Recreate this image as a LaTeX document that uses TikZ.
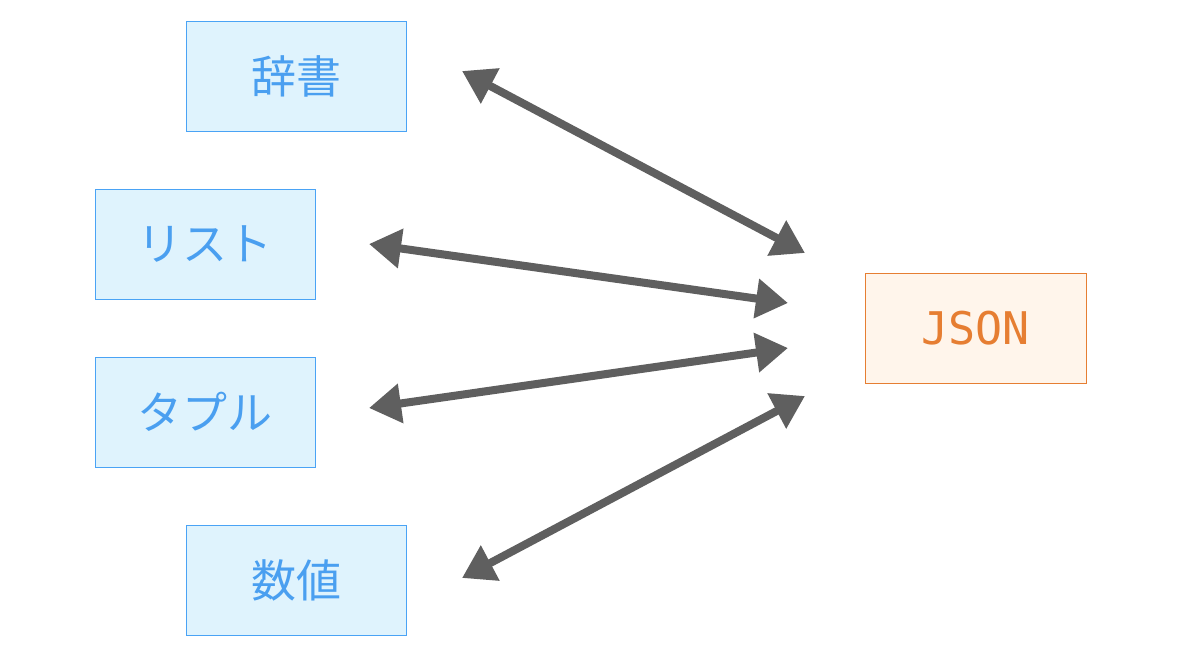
\documentclass[tikz,border=0pt]{standalone}
\usepackage{fontspec}
\newfontfamily\cjkfont{Noto Sans CJK JP}
\newfontfamily\monofont{DejaVu Sans Mono}
\usetikzlibrary{arrows.meta}
\definecolor{boxfill}{HTML}{DFF3FD}
\definecolor{boxline}{HTML}{4AA3F5}
\definecolor{boxtext}{HTML}{4A9FF0}
\definecolor{jsonfill}{HTML}{FFF5EB}
\definecolor{jsonline}{HTML}{E67E32}
\definecolor{arrowcol}{HTML}{5F5F5F}
\tikzset{
  pybox/.style={draw=boxline, fill=boxfill, line width=1pt, minimum width=220pt, minimum height=110pt, inner sep=0pt, text=boxtext, font=\cjkfont\fontsize{45}{50}\selectfont},
  jsonbox/.style={draw=jsonline, fill=jsonfill, line width=1pt, minimum width=221pt, minimum height=110pt, inner sep=0pt, text=jsonline, font=\monofont\fontsize{45}{50}\selectfont},
  link/.style={draw=arrowcol, line width=8pt, {Triangle[length=32pt,width=38pt]}-{Triangle[length=32pt,width=38pt]}}
}
\begin{document}
\begin{tikzpicture}[x=1pt,y=-1pt]
\useasboundingbox (0,0) rectangle (1178,664);
\node[pybox] (dict) at (296,76) {辞書};
\node[pybox] (list) at (205,244) {リスト};
\node[pybox] (tuple) at (205,412) {タプル};
\node[pybox] (num) at (296,580) {数値};
\node[jsonbox] (json) at (975.5,328) {JSON};
\coordinate (d1) at (462,71);
\coordinate (d2) at (805,253);
\coordinate (l1) at (369,244);
\coordinate (l2) at (788,303);
\coordinate (t1) at (369,408);
\coordinate (t2) at (788,348);
\coordinate (n1) at (462,578);
\coordinate (n2) at (805,396);
\draw[link] (d1) -- (d2);
\draw[link] (l1) -- (l2);
\draw[link] (t1) -- (t2);
\draw[link] (n1) -- (n2);
\end{tikzpicture}
\end{document}
